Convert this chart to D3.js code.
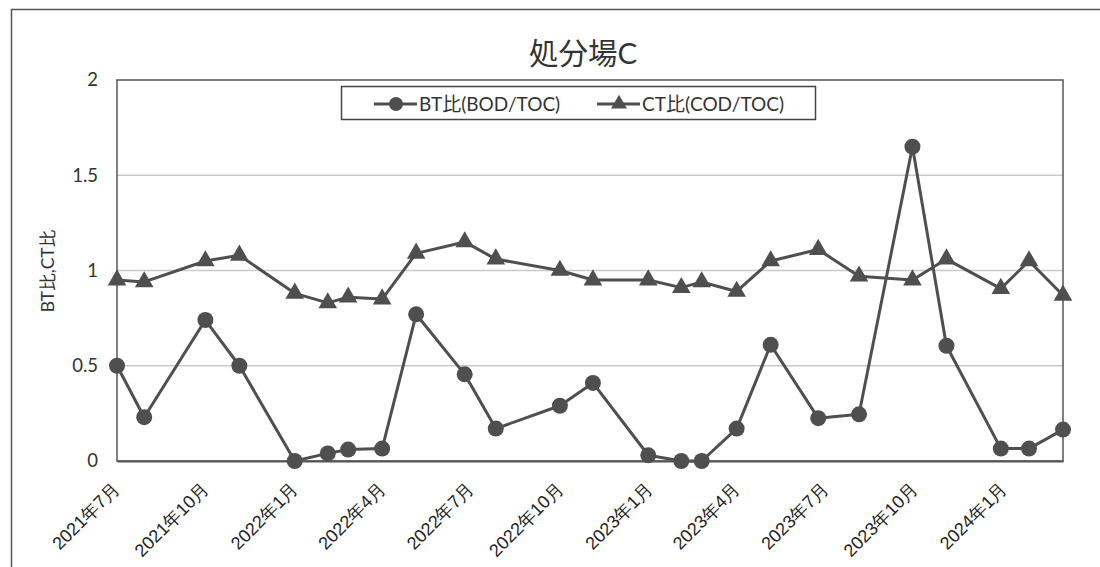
<!DOCTYPE html>
<html>
<head>
<meta charset="utf-8">
<script src="https://cdn.jsdelivr.net/npm/d3@7"></script>
<style>
  html, body { margin: 0; padding: 0; background: #fff; }
  svg { display: block; font-family: "Lato", "Noto Sans CJK JP", sans-serif; }
</style>
</head>
<body>
<svg id="chart" width="1100" height="567"></svg>
<script>
// Sampling dates and ratios for landfill site C
const sampleDates = [
  "2021-07-01", "2021-07-29", "2021-09-30", "2021-11-04", "2021-12-31",
  "2022-02-03", "2022-02-24", "2022-03-31", "2022-05-05", "2022-06-24",
  "2022-07-26", "2022-09-30", "2022-11-03", "2022-12-30", "2023-02-02",
  "2023-02-23", "2023-03-31", "2023-05-05", "2023-06-23", "2023-08-04",
  "2023-09-28", "2023-11-02", "2023-12-28", "2024-01-26", "2024-03-01"
];
const btRatio = [
  0.50, 0.23, 0.74, 0.50, 0.00,
  0.04, 0.06, 0.065, 0.77, 0.455,
  0.17, 0.29, 0.41, 0.03, 0.00,
  0.00, 0.17, 0.61, 0.225, 0.245,
  1.65, 0.605, 0.065, 0.065, 0.165
];
const ctRatio = [
  0.95, 0.94, 1.05, 1.08, 0.88,
  0.83, 0.86, 0.85, 1.09, 1.15,
  1.06, 1.00, 0.95, 0.95, 0.91,
  0.94, 0.89, 1.05, 1.11, 0.97,
  0.95, 1.06, 0.905, 1.05, 0.87
];
const yTicks = [0, 0.5, 1, 1.5, 2];
const xTickDates = [
  "2021-07-01", "2021-10-01", "2022-01-01", "2022-04-01", "2022-07-01",
  "2022-10-01", "2023-01-01", "2023-04-01", "2023-07-01", "2023-10-01",
  "2024-01-01"
];
const seriesNames = ["BT比(BOD/TOC)", "CT比(COD/TOC)"];
const titleText = "処分場C";
const yTitle = "BT比,CT比";

const parse = d3.timeParse("%Y-%m-%d");
const dates = sampleDates.map(parse);

const svg = d3.select("#chart");
const ink = "#4f4f4f";
const plot = { left: 117, top: 80, right: 1063, bottom: 461 };

// outer chart frame
svg.append("rect")
  .attr("x", 11.5).attr("y", 9.5)
  .attr("width", 1200).attr("height", 700)
  .attr("fill", "none").attr("stroke", "#555").attr("stroke-width", 1.5);

const x = d3.scaleTime()
  .domain([parse("2021-07-01"), parse("2024-03-01")])
  .range([plot.left, plot.right]);
const y = d3.scaleLinear().domain([0, 2]).range([plot.bottom, plot.top]);

// horizontal gridlines
svg.append("g")
  .selectAll("line")
  .data(yTicks.filter(v => v > 0 && v < 2))
  .join("line")
  .attr("x1", plot.left).attr("x2", plot.right)
  .attr("y1", d => y(d)).attr("y2", d => y(d))
  .attr("stroke", "#c9c9c9").attr("stroke-width", 1.5);

// plot area box
svg.append("rect")
  .attr("x", plot.left).attr("y", plot.top)
  .attr("width", plot.right - plot.left).attr("height", plot.bottom - plot.top)
  .attr("fill", "none").attr("stroke", "#555").attr("stroke-width", 1.5);

// y axis labels
const yAxis = d3.axisLeft(y).tickValues(yTicks).tickSize(0).tickPadding(19)
  .tickFormat(d3.format("~g"));
const yg = svg.append("g").attr("transform", `translate(${plot.left},0)`).call(yAxis);
yg.select(".domain").remove();
yg.selectAll("text").attr("font-size", 18.5).attr("fill", "#333")
  .attr("font-family", "Lato, sans-serif");

// x axis labels, rotated
const xAxis = d3.axisBottom(x).tickValues(xTickDates.map(parse)).tickSize(0)
  .tickFormat(d => `${d.getFullYear()}年${d.getMonth() + 1}月`);
const xg = svg.append("g").attr("transform", `translate(0,${plot.bottom})`).call(xAxis);
xg.select(".domain").attr("stroke", "#555").attr("stroke-width", 2);
xg.selectAll("text")
  .attr("font-size", 18).attr("fill", "#222")
  .attr("text-anchor", "end")
  .attr("dy", null).attr("y", 0)
  .attr("transform", "translate(3,29) rotate(-45)");

// title and y-axis title
svg.append("text")
  .attr("x", 583).attr("y", 64)
  .attr("text-anchor", "middle").attr("font-size", 29.5).attr("fill", "#333")
  .text(titleText);
svg.append("text")
  .attr("transform", `translate(54,271) rotate(-90)`)
  .attr("text-anchor", "middle").attr("font-size", 17.5).attr("fill", "#333")
  .text(yTitle);

const line = d3.line().x((d, i) => x(dates[i])).y(d => y(d));

// CT ratio series (triangles)
svg.append("path").datum(ctRatio)
  .attr("d", line).attr("fill", "none").attr("stroke", ink).attr("stroke-width", 3)
  .attr("stroke-linejoin", "round");
const tri = d3.symbol().type(d3.symbolTriangle).size(150);
svg.append("g").selectAll("path").data(ctRatio).join("path")
  .attr("d", tri)
  .attr("transform", (d, i) => `translate(${x(dates[i])},${y(d)})`)
  .attr("fill", ink);

// BT ratio series (circles)
svg.append("path").datum(btRatio)
  .attr("d", line).attr("fill", "none").attr("stroke", ink).attr("stroke-width", 3)
  .attr("stroke-linejoin", "round");
svg.append("g").selectAll("circle").data(btRatio).join("circle")
  .attr("cx", (d, i) => x(dates[i])).attr("cy", d => y(d))
  .attr("r", 8).attr("fill", ink);

// legend
const lg = svg.append("g");
lg.append("rect")
  .attr("x", 341.5).attr("y", 86.5).attr("width", 474).attr("height", 33)
  .attr("fill", "#fff").attr("stroke", "#444").attr("stroke-width", 1.5);
const legendItems = [
  { name: seriesNames[0], x0: 374, marker: "circle" },
  { name: seriesNames[1], x0: 597, marker: "triangle" }
];
legendItems.forEach(it => {
  const cy = 104;
  lg.append("line").attr("x1", it.x0).attr("x2", it.x0 + 43)
    .attr("y1", cy).attr("y2", cy).attr("stroke", ink).attr("stroke-width", 3);
  if (it.marker === "circle") {
    lg.append("circle").attr("cx", it.x0 + 22).attr("cy", cy).attr("r", 7).attr("fill", ink);
  } else {
    lg.append("path").attr("d", d3.symbol().type(d3.symbolTriangle).size(110))
      .attr("transform", `translate(${it.x0 + 22},${cy})`).attr("fill", ink);
  }
  lg.append("text").attr("x", it.x0 + 45).attr("y", cy + 7)
    .attr("font-size", 19).attr("fill", "#333").text(it.name);
});
</script>
</body>
</html>
